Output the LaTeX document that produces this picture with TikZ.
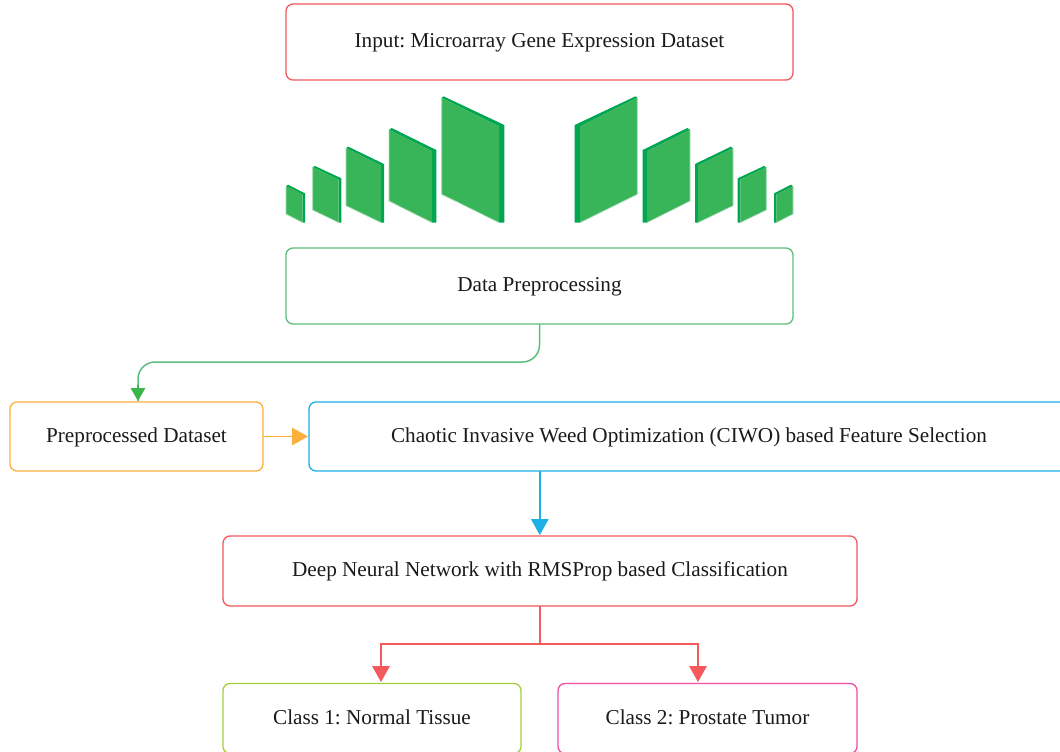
\documentclass[tikz,border=0pt]{standalone}
\usepackage{fontspec}
\setmainfont{Liberation Serif}
\usetikzlibrary{arrows.meta,calc}
\definecolor{cred}{HTML}{F4595C}
\definecolor{cgreen}{HTML}{39B54A}
\definecolor{cgreenl}{HTML}{5CBF7C}
\definecolor{corange}{HTML}{FBB03B}
\definecolor{cblue}{HTML}{1CB0E6}
\definecolor{clime}{HTML}{A6D03C}
\definecolor{cpink}{HTML}{EE4FA0}
\definecolor{cface}{HTML}{39B559}
\definecolor{cdark}{HTML}{00A651}
\definecolor{clight}{HTML}{A5DDB5}
\definecolor{ctxt}{HTML}{1A1A1A}
\tikzset{
  flowbox/.style={draw=#1,rounded corners=7pt,line width=1.3pt,inner sep=0pt,outer sep=0pt,
    text=ctxt,font=\fontsize{21.2}{25}\selectfont,fill=white},
  link/.style={draw=#1,line width=1.5pt},
  tipa/.style={-{Triangle[length=16pt,width=17.5pt,fill=#1]}},
  tipb/.style={-{Triangle[length=13pt,width=14.5pt,fill=#1]}},
}
\newcommand{\tx}[1]{\raisebox{-5.5pt}[8pt][8pt]{#1}}
\newcommand{\wall}[9]{%
  \fill[cdark] (#7,#8) -- (#6,#9) -- (#6,222.6) -- (#3,222.6) -- (#3,#4) -- (#1,#2) -- cycle;
  \fill[cface] (#1,#2) -- (#3,#4) -- (#3,222.6) -- (#1,#5) -- cycle;
  \draw[clight,line width=0.7pt] (#1,#2) -- (#1,#5) -- (#3,222.6);
}
\newcommand{\wallrow}{%
  \wall{441.7}{97.8}{499}{126.5}{194.3}{504.3}{443.5}{96.3}{125}
  \wall{389}{129.8}{432}{151.2}{201}{436.3}{391.7}{128}{150}
  \wall{346}{148.2}{381}{165.5}{205.7}{384}{348.3}{146.7}{164}
  \wall{312.7}{167.2}{338.7}{179.8}{210}{341.3}{315}{166}{178.3}
  \wall{286}{186.2}{302.7}{194.5}{214}{305}{288}{184.7}{193.3}
}
\begin{document}
\frenchspacing
\begin{tikzpicture}[x=1pt,y=-1pt]
\path[use as bounding box,clip] (0,0) rectangle (1060,752);
\fill[white] (0,0) rectangle (1060,752);
\wallrow
\begin{scope}[xshift=1079pt,xscale=-1]
\wallrow
\end{scope}
\node[flowbox=cred,minimum width=507pt,minimum height=76pt] (input) at (539.5,42) {\tx{Input: Microarray Gene Expression Dataset}};
\node[flowbox=cgreenl,minimum width=507pt,minimum height=76pt] (prep) at (539.5,286) {\tx{Data Preprocessing}};
\node[flowbox=corange,minimum width=253pt,minimum height=69pt] (pds) at (136.5,436.5) {\tx{Preprocessed Dataset}};
\node[flowbox=cblue,minimum width=760pt,minimum height=69pt] (ciwo) at (689,436.5) {\tx{Chaotic Invasive Weed Optimization (CIWO) based Feature Selection}};
\node[flowbox=cred,minimum width=634pt,minimum height=70pt] (dnn) at (540,571) {\tx{Deep Neural Network with RMSProp based Classification}};
\node[flowbox=clime,minimum width=298pt,minimum height=70pt] (c1) at (372,718.5) {\tx{Class 1: Normal Tissue}};
\node[flowbox=cpink,minimum width=299pt,minimum height=70pt] (c2) at (707.5,718.5) {\tx{Class 2: Prostate Tumor}};
\coordinate (pdstop) at (138,401);
\coordinate (ciwoleft) at (308,436.5);
\coordinate (ciwoout) at (539.8,471);
\coordinate (dnntop) at (539.8,535);
\coordinate (dnnout) at (539.8,606);
\coordinate (fork) at (539.8,644);
\coordinate (c1top) at (381,682);
\coordinate (c2top) at (698,682);
\draw[link=cgreenl,rounded corners=17pt] (prep.south) -- ++(0,38) -| (pdstop);
\draw[link=cgreen,tipb=cgreen] ($(pdstop)+(0,-16)$) -- (pdstop);
\draw[link=corange,tipa=corange] (pds.east) -- (ciwoleft);
\draw[link=cblue,tipa=cblue] (ciwoout) -- (dnntop);
\draw[link=cred] (dnnout) -- (fork);
\draw[link=cred,tipa=cred] (fork) -| (c1top);
\draw[link=cred,tipa=cred] (fork) -| (c2top);
\end{tikzpicture}
\end{document}
